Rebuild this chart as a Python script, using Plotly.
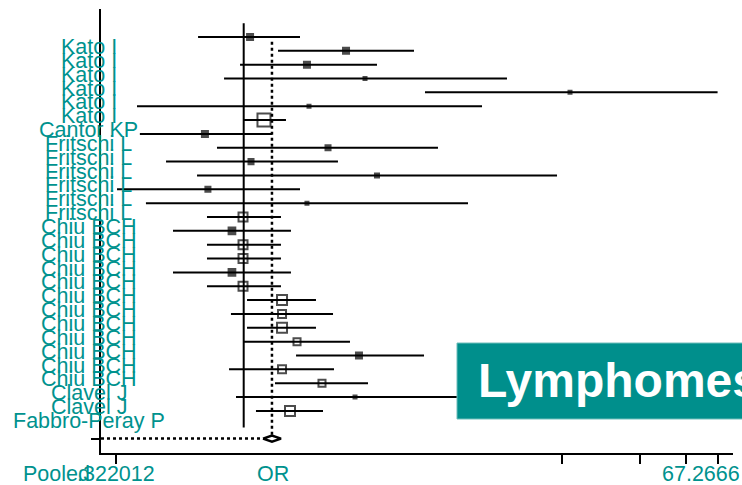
import math
import plotly.graph_objects as go

# ---------------- data ----------------
studies = (["Kato I"] * 6 + ["Cantor KP"] + ["Fritschi L"] * 6 +
           ["Chiu BCH"] * 12 + ["Clavel J"] * 2 + ["Fabbro-Peray P"])
odds_ratio = [1.058, 2.479, 1.753, 2.934, 18.09, 1.785, 1.197,
              0.709, 2.113, 1.067, 3.263, 0.728, 1.753,
              0.994, 0.901, 0.994, 0.994, 0.901, 0.994,
              1.405, 1.405, 1.405, 1.605, 2.781, 1.405,
              2.003, 2.685, 1.508]
ci_lower = [0.667, 1.356, 0.968, 0.840, 4.995, 0.388, 1.002,
            0.398, 0.789, 0.502, 0.661, 0.325, 0.420,
            0.722, 0.534, 0.722, 0.722, 0.534, 0.722,
            1.030, 0.893, 1.030, 0.994, 1.591, 0.878,
            1.320, 0.934, 1.115]
ci_upper = [1.648, 4.531, 3.263, 10.34, 67.0, 8.286, 1.455,
            1.286, 5.606, 2.308, 16.12, 1.648, 7.317,
            1.392, 1.521, 1.392, 1.392, 1.521, 1.392,
            1.899, 2.209, 1.899, 2.568, 4.953, 2.228,
            3.013, 9.0, 2.021]
weights = [4.0, 4.0, 4.0, 1.0, 1.0, 1.0, 18.8,
           4.0, 2.8, 2.8, 1.8, 2.8, 1.0,
           9.0, 5.0, 9.0, 9.0, 5.0, 9.0,
           11.1, 7.1, 11.1, 5.5, 4.0, 7.1,
           5.5, 1.0, 11.1]
pooled_label = "Pooled"
pooled_or = 1.285
pooled_lower = 1.187
pooled_upper = 1.392
x_tick_values = [0.322012, 16.8167, 33.6333, 50.4500, 67.2666]
x_tick_labels = [".322012", "", "", "", "67.2666"]
axis_title = "OR"
panel_label = "Lymphomes"

# ---------------- styling ----------------
TEAL = "#00928E"
BOX_TEAL = "#008F8C"
FONT = "Liberation Sans, Arial, sans-serif"
LABEL_SIZE = 21.5
x_range = [-0.5499, 1.8855]
n = len(studies)
rows = list(range(1, n + 1))
pooled_row = n + 2

fig = go.Figure()

# CI lines
lx, ly = [], []
for r, lo, hi in zip(rows, ci_lower, ci_upper):
    lx += [lo, hi, None]
    ly += [r, r, None]
fig.add_trace(go.Scatter(x=lx, y=ly, mode="lines",
                         line=dict(color="black", width=2), hoverinfo="skip"))

# null line at OR = 1
fig.add_trace(go.Scatter(x=[1, 1], y=[0, n + 1.2], mode="lines",
                         line=dict(color="black", width=2), hoverinfo="skip"))

# pooled estimate vertical dotted line
dh = 0.22
fig.add_trace(go.Scatter(x=[pooled_or, pooled_or], y=[1.35, pooled_row - dh],
                         mode="lines", line=dict(color="black", width=2.5, dash="dot"),
                         hoverinfo="skip"))
# pooled row dotted line from the axis to the diamond
fig.add_trace(go.Scatter(x=[10 ** x_range[0], pooled_lower], y=[pooled_row, pooled_row],
                         mode="lines", line=dict(color="black", width=2.5, dash="dot"),
                         hoverinfo="skip"))

# study boxes
sizes = [3.0 * math.sqrt(w) for w in weights]
symbols = ["square-open" if w > 5.2 else "square" for w in weights]
fig.add_trace(go.Scatter(x=odds_ratio, y=rows, mode="markers",
                         marker=dict(symbol=symbols, size=sizes, color="black",
                                     line=dict(color="black", width=2)),
                         hoverinfo="skip"))

# pooled diamond
fig.add_trace(go.Scatter(x=[pooled_lower, pooled_or, pooled_upper, pooled_or, pooled_lower],
                         y=[pooled_row, pooled_row - dh, pooled_row, pooled_row + dh, pooled_row],
                         mode="lines", fill="toself", fillcolor="white",
                         line=dict(color="black", width=2.5), hoverinfo="skip"))

annotations = []
for r, s in zip(rows, studies):
    annotations.append(dict(text=s, x=-0.019, xref="paper", y=r, yref="y",
                            xanchor="center", yanchor="middle", yshift=-10,
                            showarrow=False, font=dict(family=FONT, size=LABEL_SIZE, color=TEAL)))

# bottom texts
annotations.append(dict(text=pooled_label, x=-0.1266, xref="paper", y=0, yref="paper",
                        xanchor="left", yanchor="middle", yshift=-21, showarrow=False,
                        font=dict(family=FONT, size=LABEL_SIZE, color=TEAL)))
annotations.append(dict(text=x_tick_labels[0], x=math.log10(x_tick_values[0]), xref="x",
                        y=0, yref="paper", xanchor="center", yanchor="middle", yshift=-21,
                        showarrow=False, font=dict(family=FONT, size=LABEL_SIZE, color=TEAL)))
annotations.append(dict(text=x_tick_labels[-1], x=1.0145, xref="paper",
                        y=0, yref="paper", xanchor="right", yanchor="middle", yshift=-21,
                        showarrow=False, font=dict(family=FONT, size=LABEL_SIZE, color=TEAL)))
annotations.append(dict(text=axis_title, x=0.272, xref="paper",
                        y=0, yref="paper", xanchor="center", yanchor="middle", yshift=-21,
                        showarrow=False, font=dict(family=FONT, size=LABEL_SIZE, color=TEAL)))

# Lymphomes label box
annotations.append(dict(text="<b>" + panel_label + "</b>", x=0.5933, xref="paper",
                        y=0.163, yref="paper", xanchor="left", yanchor="middle",
                        showarrow=False, font=dict(family=FONT, size=48, color="white")))

fig.update_layout(
    width=742, height=485,
    margin=dict(l=101, r=9, t=9, b=32),
    paper_bgcolor="white", plot_bgcolor="white",
    showlegend=False,
    annotations=annotations,
    shapes=[dict(type="rect", xref="paper", yref="paper",
                 x0=0.5633, x1=1.03, y0=0.0766, y1=0.2477,
                 fillcolor=BOX_TEAL, line=dict(color="#6CBDBA", width=1), layer="above")],
    xaxis=dict(type="log", range=x_range, showgrid=False, zeroline=False,
               showline=True, linecolor="black", linewidth=2,
               tickvals=x_tick_values, ticktext=["" for _ in x_tick_values],
               ticks="outside", ticklen=9, tickwidth=2, tickcolor="black",
               showticklabels=False),
    yaxis=dict(range=[n + 3.04, -1.02], showgrid=False, zeroline=False,
               showline=True, linecolor="black", linewidth=2,
               tickvals=[pooled_row], ticks="outside", ticklen=8, tickwidth=2,
               tickcolor="black", showticklabels=False),
)

fig.write_html("out.html", config={"displayModeBar": False},
               post_script="document.body.style.margin='0px';document.body.style.overflow='hidden';")
